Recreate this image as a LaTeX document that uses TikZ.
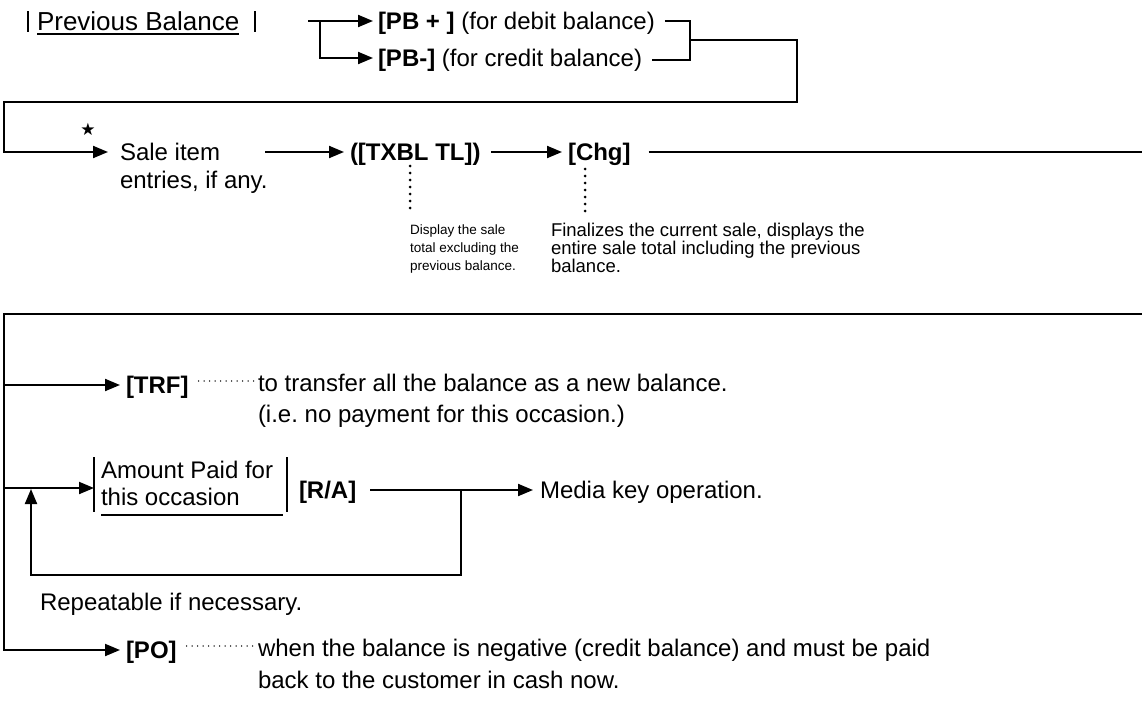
\documentclass[tikz,border=0pt]{standalone}
\usepackage{fontspec}
\setmainfont{Liberation Sans}
\newfontfamily\symfont{DejaVu Sans}
\usetikzlibrary{arrows.meta}
\frenchspacing
\begin{document}
\begin{tikzpicture}[x=1pt,y=-1pt,
  every node/.style={inner sep=0pt, outer sep=0pt},
  main/.style={font=\fontsize{24}{28}\selectfont, align=left},
  smalla/.style={font=\fontsize{13.5}{18}\selectfont, align=left},
  smallb/.style={font=\fontsize{18.5}{18}\selectfont, align=left},
  keyl/.style={font=\fontsize{24}{28}\selectfont\bfseries},
  ln/.style={line width=2pt},
  arr/.style={line width=2pt, -{Triangle[length=15pt,width=12pt]}},
  vdots/.style={line width=3pt, line cap=round, dash pattern=on 0pt off 7pt},
  hdots/.style={line width=1.6pt, line cap=round, dash pattern=on 0pt off 5.5pt},
]
\useasboundingbox (0,0) rectangle (1142,707);

% ---------- row 1 ----------
\node[main, anchor=base west, font=\fontsize{26}{28}\selectfont] (pb) at (37,30) {Previous Balance};
\draw[line width=1.5pt] ([yshift=-4pt]pb.base west) -- ([yshift=-4pt]pb.base east);
\draw[ln] (28,11) -- (28,32);
\draw[ln] (255,11) -- (255,32);

\node[main, anchor=base west] (pbplus) at (378,29.5) {\textbf{[PB + ]} (for debit balance)};
\node[main, anchor=base west] (pbminus) at (378,66.5) {\textbf{[PB-]} (for credit balance)};
\coordinate (pbstart) at (308,21);
\coordinate (pbfork) at (320,21);
\coordinate (pbminusY) at (320,58);
\draw[arr] (pbstart) -- ([xshift=-5pt]pbplus.west |- pbstart);
\draw[arr] (pbfork) -- (pbminusY) -- ([xshift=-5pt]pbminus.west |- pbminusY);

\coordinate (bt) at (690,21);
\coordinate (bb) at (690,60);
\coordinate (bm) at (690,40);
\path ([xshift=10pt]pbplus.east) coordinate (pbpe);
\path ([xshift=10pt]pbminus.east) coordinate (pbme);
\draw[ln] (pbpe |- bt) -- (bt) -- (bb) -- (pbme |- bb);

% ---------- row 2 ----------
\coordinate (loopR) at (797,102);
\coordinate (loopL) at (4,102);
\coordinate (saleIn) at (4,152);
\node[main, anchor=north west] (sale) at (120,143) {Sale item\\entries, if any.};
\draw[arr] (bm) -- (bm -| loopR) -- (loopR) -- (loopL) -- (saleIn) -- ([xshift=-12pt]sale.west |- saleIn);
\node[font=\symfont\fontsize{17}{17}\selectfont] (star) at (88,129) {★};

\node[keyl, anchor=base west] (txbl) at (350,160.5) {([TXBL TL])};
\node[keyl, anchor=base west] (chg) at (568,160.5) {[Chg]};
\coordinate (a2s) at (265,152);
\coordinate (a3s) at (491,152);
\coordinate (chgEnd) at (1142,152);
\draw[arr] (a2s) -- ([xshift=-6pt]txbl.west |- a2s);
\draw[arr] (a3s) -- ([xshift=-6pt]chg.west |- a3s);
\draw[ln] ([xshift=18pt]chg.east |- chgEnd) -- (chgEnd);

\node[smalla, anchor=north west] (disp) at (410,225) {Display the sale\\total excluding the\\previous balance.};
\node[smallb, anchor=north west] (fin) at (551,223) {Finalizes the current sale, displays the\\entire sale total including the previous\\balance.};
\draw[vdots] (410,166) -- (410,213);
\draw[vdots] (585,169) -- (585,213);

% ---------- row 3 ----------
\coordinate (r3R) at (1142,314);
\coordinate (r3L) at (4,314);
\coordinate (poIn) at (4,650);
\coordinate (trfIn) at (4,385);
\coordinate (amtIn) at (4,488);

\node[keyl, anchor=base west] (trf) at (126,393.5) {[TRF]};
\node[main, anchor=north west] (trftxt) at (258,374) {to transfer all the balance as a new balance.\\[3pt](i.e. no payment for this occasion.)};
\draw[arr] (trfIn) -- ([xshift=-6pt]trf.west |- trfIn);
\draw[hdots] ([xshift=10pt]trf.east |- 0,381) -- ([xshift=-4pt]trftxt.west |- 0,381);

\node[keyl, anchor=base west] (po) at (126,658.5) {[PO]};
\node[main, anchor=north west] (potxt) at (258,639) {when the balance is negative (credit balance) and must be paid\\[4pt]back to the customer in cash now.};
\draw[arr] (r3R) -- (r3L) -- (poIn) -- ([xshift=-6pt]po.west |- poIn);
\draw[hdots] ([xshift=10pt]po.east |- 0,646) -- ([xshift=-4pt]potxt.west |- 0,646);

% amount paid
\node[main, anchor=north west, font=\fontsize{24}{27}\selectfont] (amt) at (101,461) {Amount Paid for\\this occasion};
\draw[ln] (94,457) -- (94,512);
\draw[ln] (287,457) -- (287,512);
\draw[line width=1.8pt] (101,515) -- (283,515);
\draw[arr] (amtIn) -- (94,488);
\node[keyl, anchor=base west] (ra) at (299,498.5) {[R/A]};
\node[main, anchor=base west] (media) at (540,498.5) {Media key operation.};
\coordinate (raS) at (370,490);
\coordinate (raFork) at (461,490);
\coordinate (retR) at (461,575);
\coordinate (retL) at (31,575);
\coordinate (retTip) at (31,489);
\draw[arr] (raS) -- ([xshift=-7pt]media.west |- raS);
\draw[arr] (raFork) -- (retR) -- (retL) -- (retTip);
\node[main, anchor=base west] (rep) at (40,610.5) {Repeatable if necessary.};
\end{tikzpicture}
\end{document}
